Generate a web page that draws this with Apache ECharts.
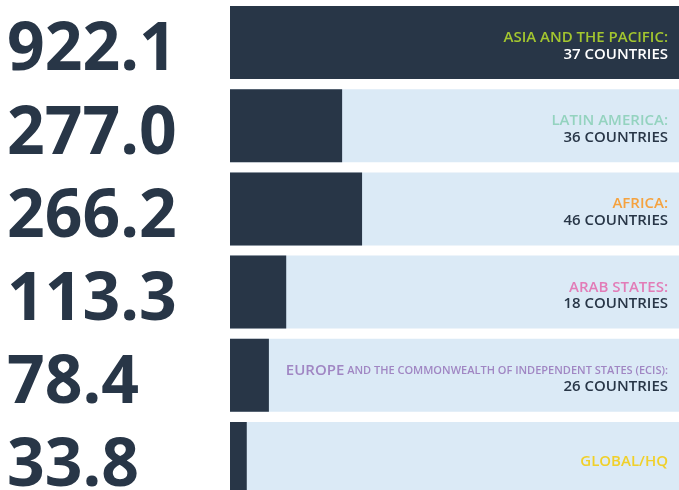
<!DOCTYPE html>
<html>
<head>
<meta charset="utf-8">
<script src="https://cdn.jsdelivr.net/npm/echarts@6/dist/echarts.min.js"></script>
<style>
  html, body { margin: 0; padding: 0; background: #fff; }
  #chart { width: 679px; height: 490px; }
</style>
</head>
<body>
<div id="chart"></div>
<script>
// budget by region, big number on the left, region name at the right of the bar

var regions = ['ASIA AND THE PACIFIC:', 'LATIN AMERICA:', 'AFRICA:', 'ARAB STATES:', 'EUROPE', 'GLOBAL/HQ']
var regionExtra = ['', '', '', '', ' AND THE COMMONWEALTH OF INDEPENDENT STATES (ECIS):', '']
var countries = ['37 COUNTRIES', '36 COUNTRIES', '46 COUNTRIES', '18 COUNTRIES', '26 COUNTRIES', '']
var values = [922.1, 277.0, 266.2, 113.3, 78.4, 33.8]
// bar lengths as drawn in the picture (latin america bar is drawn shorter than its number)
var barLengths = [922.1, 226, 266.2, 113.3, 78.4, 33.8]
var regionColors = ['#a3c62f', '#94d3bf', '#f5a23e', '#e27cb7', '#a086c3', '#f0d02a']

var dark = '#283647'
var light = '#dbeaf6'

var rich = {
  gap: { fontSize: 1, lineHeight: 7 },
  sub: { fontFamily: 'Open Sans', fontWeight: 600, fontSize: 11, color: regionColors[4], lineHeight: 16.5 },
  cnt: { fontFamily: 'Open Sans', fontWeight: 600, fontSize: 15, color: dark, lineHeight: 16.5 },
  cntW: { fontFamily: 'Open Sans', fontWeight: 600, fontSize: 15, color: '#ffffff', lineHeight: 16.5 }
}
for (var i = 0; i < regions.length; i++) {
  rich['r' + i] = { fontFamily: 'Open Sans', fontWeight: 600, fontSize: 15, color: regionColors[i], lineHeight: 16.5 }
}

var chart = echarts.init(document.getElementById('chart'))

var option = {
  animation: false,
  grid: { left: 230, width: 449, top: 1, height: 499, outerBoundsMode: 'none', containLabel: false },
  xAxis: {
    type: 'value', min: 0, max: 905,
    show: false
  },
  yAxis: [
    {
      type: 'category', data: regions, inverse: true,
      axisLine: { show: false }, axisTick: { show: false }, splitLine: { show: false },
      axisLabel: {
        interval: 0, align: 'left', margin: 223,
        verticalAlign: 'top', lineHeight: 18,
        fontFamily: 'Open Sans', fontWeight: 'bold', fontSize: 66, color: dark,
        formatter: function (v, idx) { return values[idx].toFixed(1) }
      }
    },
    {
      type: 'category', data: regions, inverse: true, position: 'right', z: 10,
      axisLine: { show: false }, axisTick: { show: false }, splitLine: { show: false },
      axisLabel: {
        interval: 0, inside: true, margin: 11, rich: rich,
        formatter: function (v, idx) {
          var s = '{gap| }\n{r' + idx + '|' + v + '}'
          if (regionExtra[idx]) s += '{sub|' + regionExtra[idx] + '}'
          if (countries[idx]) s += '\n{' + (idx === 0 ? 'cntW' : 'cnt') + '|' + countries[idx] + '}'
          return s
        }
      }
    }
  ],
  series: [
    {
      type: 'bar',
      data: barLengths,
      barWidth: 73,
      itemStyle: { color: dark },
      showBackground: true,
      backgroundStyle: { color: light }
    }
  ]
}

chart.setOption(option)
</script>
</body>
</html>
